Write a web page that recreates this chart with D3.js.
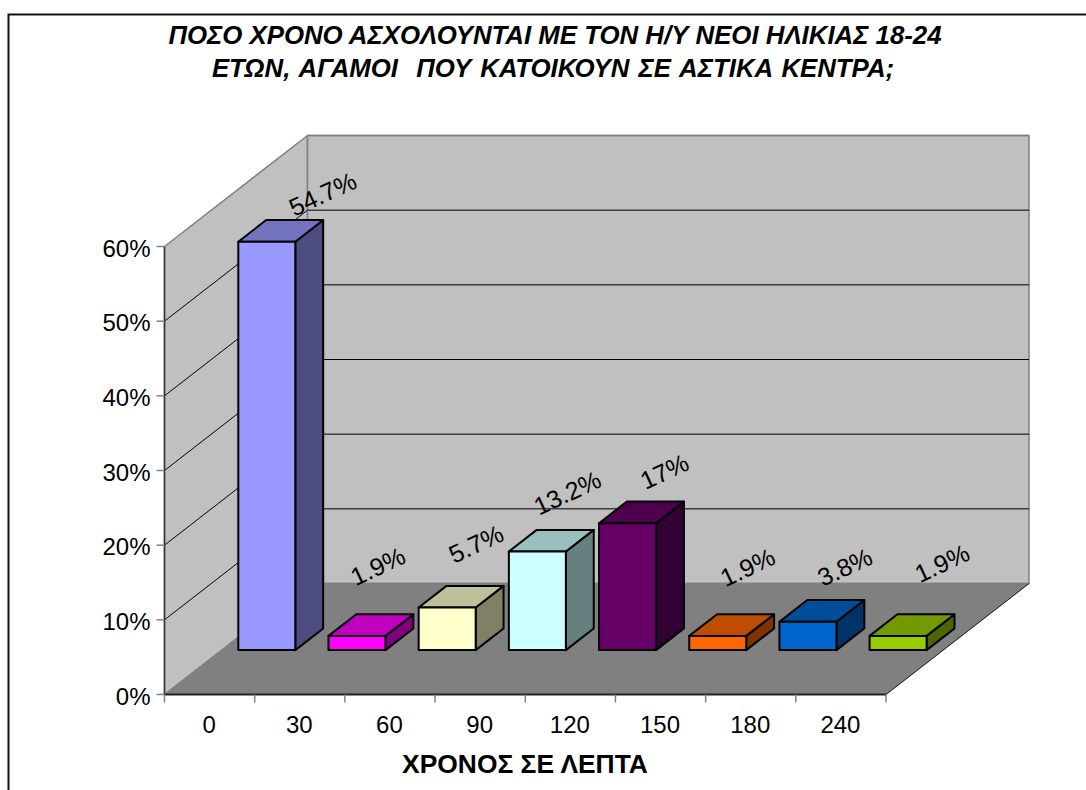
<!DOCTYPE html>
<html><head><meta charset="utf-8">
<script src="https://cdn.jsdelivr.net/npm/d3@7"></script>
<style>html,body{margin:0;padding:0;background:#fff;overflow:hidden}svg{display:block}text{font-family:"Liberation Sans",Arial,sans-serif;fill:#000}</style>
</head><body><svg id="c" width="1086" height="790"></svg>
<script>
const categories=["0","30","60","90","120","150","180","240"];
const values=[54.7,1.9,5.7,13.2,17,1.9,3.8,1.9];
const labels=["54.7%","1.9%","5.7%","13.2%","17%","1.9%","3.8%","1.9%"];
const colors=["#9999FF","#FF00FF","#FFFFCC","#CCFFFF","#660066","#FF6600","#0066CC","#99CC00"];
const yTicks=[0,10,20,30,40,50,60];
const titleLines=["ΠΟΣΟ ΧΡΟΝΟ ΑΣΧΟΛΟΥΝΤΑΙ ΜΕ ΤΟΝ Η/Υ ΝΕΟΙ ΗΛΙΚΙΑΣ 18-24","ΕΤΩΝ, ΑΓΑΜΟΙ  ΠΟΥ ΚΑΤΟΙΚΟΥΝ ΣΕ ΑΣΤΙΚΑ ΚΕΝΤΡΑ;"];
const xTitle="ΧΡΟΝΟΣ ΣΕ ΛΕΠΤΑ";
const labelOffsets=[[29,-24],[-6,-46],[2,-40],[3,-35],[10,-28],[3,-45],[10,-31],[17,-49]];

const svg=d3.select("#c");
const x=d3.scaleBand().domain(categories).range([164.5,886]);
const y=d3.scaleLinear().domain([0,60]).range([694.5,246.5]);
const dx=143,dy=-111;
const pt=(px,py,d)=>[px+dx*d,py+dy*d];
const poly=(pts,fill,stroke,sw)=>svg.append("polygon").attr("points",pts.map(p=>p.join(",")).join(" ")).attr("fill",fill).attr("stroke",stroke).attr("stroke-width",sw).attr("stroke-linejoin","round");
const line=(a,b,stroke,sw)=>svg.append("line").attr("x1",a[0]).attr("y1",a[1]).attr("x2",b[0]).attr("y2",b[1]).attr("stroke",stroke).attr("stroke-width",sw);

svg.append("rect").attr("x",8.5).attr("y",14.5).attr("width",1200).attr("height",900).attr("fill","#fff").attr("stroke","#111").attr("stroke-width",2);

const x0=x.range()[0],x1=x.range()[1],yb=y(0),yt=y(60);
poly([[x0,yb],[x0,yt],pt(x0,yt,1),pt(x0,yb,1)],"#C0C0C0","#808080",1.5);
poly([pt(x0,yb,1),pt(x0,yt,1),pt(x1,yt,1),pt(x1,yb,1)],"#C0C0C0","#808080",1.5);
poly([[x0,yb],pt(x0,yb,1),pt(x1,yb,1),[x1,yb]],"#808080","#808080",1);
yTicks.slice(1,-1).forEach(t=>{
  line([x0,y(t)],pt(x0,y(t),1),"#000",1);
});
yTicks.slice(1).forEach(t=>{
  line(pt(x0,y(t),1),pt(x1,y(t),1),t===60?"#808080":"#000",t===60?1.5:1);
});
line(pt(x0,yb,1),pt(x1,yb,1),"#808080",1.5);
line([x1,yb],pt(x1,yb,1),"#222",1);
line([x0,yb],[x1,yb],"#222",2);
line([x0,yb],[x0,yt],"#333",1.5);

yTicks.forEach(t=>{
  line([x0-8,y(t)],[x0,y(t)],"#808080",1.5);
  svg.append("text").attr("x",x0-14).attr("y",y(t)+10).attr("text-anchor","end").attr("font-size",24).text(t+"%");
});
categories.concat([null]).forEach((c,i)=>{
  const tx=x0+i*x.step();
  line([tx,yb],[tx,yb+8],"#808080",1.5);
});
categories.forEach(c=>{
  svg.append("text").attr("x",x(c)+x.bandwidth()/2-0.5).attr("y",733).attr("text-anchor","middle").attr("font-size",24).text(c);
});

const barW=57,d0=0.4,dep=0.195;
categories.forEach((c,i)=>{
  const left=x(c)+x.bandwidth()/2-barW/2+dx*d0;
  const base=y(0)+dy*d0;
  const h=y(0)-y(values[i]);
  const top=base-h;
  const right=left+barW;
  const col=d3.color(colors[i]);
  const shade=k=>d3.rgb(col.r*k,col.g*k,col.b*k).formatHex();
  const off=(p)=>[p[0]+dx*dep,p[1]+dy*dep];
  const s=2;
  poly([[right,base],[right,top],off([right,top]),off([right,base])],shade(0.5),"#000",s);
  poly([[left,top],[right,top],off([right,top]),off([left,top])],shade(0.75),"#000",s);
  poly([[left,base],[right,base],[right,top],[left,top]],colors[i],"#000",s);
  const cx=left+barW/2+dx*dep+labelOffsets[i][0], cy=top+dy*dep+labelOffsets[i][1];
  svg.append("text").attr("transform",`translate(${cx},${cy}) rotate(-25)`).attr("text-anchor","middle").attr("dominant-baseline","middle").attr("font-size",25).text(labels[i]);
});

titleLines.forEach((t,i)=>{
  svg.append("text").attr("x",i?553:555).attr("y",44+i*33).attr("text-anchor","middle").attr("font-size",25.8).attr("font-weight","bold").attr("font-style","italic").attr("word-spacing",i?2:0).style("white-space","pre").text(t);
});
svg.append("text").attr("x",525).attr("y",773).attr("text-anchor","middle").attr("font-size",26.4).attr("font-weight","bold").text(xTitle);
</script></body></html>
